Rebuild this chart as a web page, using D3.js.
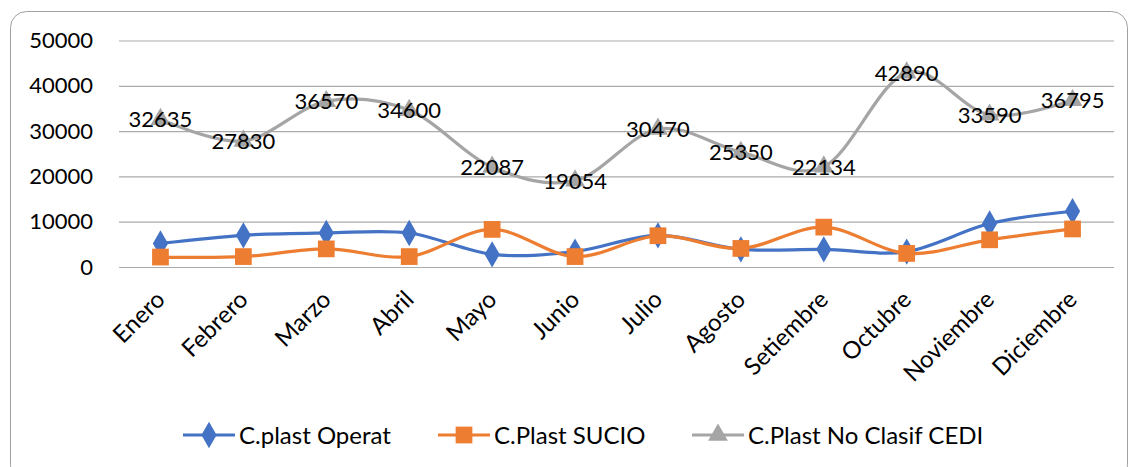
<!DOCTYPE html>
<html>
<head>
<meta charset="utf-8">
<script src="https://cdn.jsdelivr.net/npm/d3@7"></script>
<style>
  html, body { margin: 0; padding: 0; background: #fff; }
  svg { display: block; font-family: "Lato", "Open Sans", sans-serif; }
</style>
</head>
<body>
<svg id="chart" width="1131" height="467"></svg>
<script>
// Monthly plastic container counts
const months = ["Enero", "Febrero", "Marzo", "Abril", "Mayo", "Junio", "Julio",
                "Agosto", "Setiembre", "Octubre", "Noviembre", "Diciembre"];
const operat  = [5200, 7000, 7500, 7500, 2800, 3400, 7000, 3900, 3900, 3400, 9600, 12300];
const sucio   = [2200, 2300, 4000, 2300, 8300, 2300, 6900, 4100, 8800, 3000, 6000, 8400];
const noClasif = [32635, 27830, 36570, 34600, 22087, 19054, 30470, 25350, 22134, 42890, 33590, 36795];
const yTicks = [0, 10000, 20000, 30000, 40000, 50000];

const seriesNames = ["C.plast Operat", "C.Plast SUCIO", "C.Plast No Clasif CEDI"];
const seriesColors = ["#4472C4", "#ED7D31", "#A5A5A5"];
const seriesSymbols = [d3.symbolDiamond, d3.symbolSquare, d3.symbolTriangle];

const svg = d3.select("#chart");

// Outer rounded frame
svg.append("rect")
  .attr("x", 10.5).attr("y", 11.5)
  .attr("width", 1117).attr("height", 470)
  .attr("rx", 16).attr("ry", 16)
  .attr("fill", "none").attr("stroke", "#A0A0A0").attr("stroke-width", 1);

const plot = { left: 119, right: 1114, top: 40.5, bottom: 267 };

const x = d3.scaleBand().domain(months).range([plot.left, plot.right]);
const y = d3.scaleLinear().domain([0, 50000]).range([plot.bottom, plot.top]);
const cx = m => x(m) + x.bandwidth() / 2;

// Horizontal gridlines + y tick labels
const yAxis = d3.axisLeft(y).tickValues(yTicks).tickSize(-(plot.right - plot.left)).tickPadding(26).tickFormat(d3.format("d"));
const gy = svg.append("g").attr("transform", `translate(${plot.left},0)`).call(yAxis);
gy.select(".domain").remove();
gy.selectAll(".tick line").attr("stroke", "#ABABAB").attr("stroke-width", 1.2);
gy.selectAll(".tick text").attr("font-size", 22).attr("fill", "#000").attr("font-family", "Lato, 'Open Sans', sans-serif");

// X axis labels, rotated
const xAxis = d3.axisBottom(x).tickSize(0).tickPadding(0);
const gx = svg.append("g").attr("transform", `translate(0,${plot.bottom})`).call(xAxis);
gx.select(".domain").remove();
gx.selectAll(".tick text")
  .attr("font-size", 24).attr("fill", "#000").attr("font-family", "Lato, 'Open Sans', sans-serif")
  .attr("text-anchor", "end")
  .attr("dy", null).attr("y", 0)
  .attr("transform", "translate(6,34) rotate(-45)");

const line = d3.line()
  .x((d, i) => cx(months[i]))
  .y(d => y(d))
  .curve(d3.curveCatmullRom.alpha(0));

const allSeries = [operat, sucio, noClasif];
const markerSizes = [200, 280, 170];

allSeries.forEach((vals, si) => {
  const g = svg.append("g");
  g.append("path")
    .datum(vals)
    .attr("d", line)
    .attr("fill", "none")
    .attr("stroke", seriesColors[si])
    .attr("stroke-width", 3.2)
    .attr("stroke-linejoin", "round")
    .attr("stroke-linecap", "round");
  g.selectAll("path.mk")
    .data(vals)
    .join("path")
    .attr("class", "mk")
    .attr("d", d3.symbol().type(seriesSymbols[si]).size(markerSizes[si]))
    .attr("transform", (d, i) => `translate(${cx(months[i])},${y(d)})`)
    .attr("fill", seriesColors[si]);
});

// Value labels on the gray series
svg.append("g").selectAll("text")
  .data(noClasif)
  .join("text")
  .attr("x", (d, i) => cx(months[i]))
  .attr("y", d => y(d))
  .attr("dy", "0.36em")
  .attr("text-anchor", "middle")
  .attr("font-size", 22)
  .attr("fill", "#000")
  .text(d => d);

// Legend
const legendX = [183, 438, 692];
const legend = svg.append("g");
seriesNames.forEach((name, si) => {
  const lg = legend.append("g").attr("transform", `translate(${legendX[si]},435)`);
  lg.append("line").attr("x1", 0).attr("x2", 52).attr("y1", 0).attr("y2", 0)
    .attr("stroke", seriesColors[si]).attr("stroke-width", 3.2);
  lg.append("path")
    .attr("d", d3.symbol().type(seriesSymbols[si]).size(markerSizes[si]))
    .attr("transform", "translate(26,0)")
    .attr("fill", seriesColors[si]);
  lg.append("text").attr("x", 56).attr("y", 0).attr("dy", "0.36em")
    .attr("font-size", 24).attr("fill", "#000").text(name);
});
</script>
</body>
</html>
